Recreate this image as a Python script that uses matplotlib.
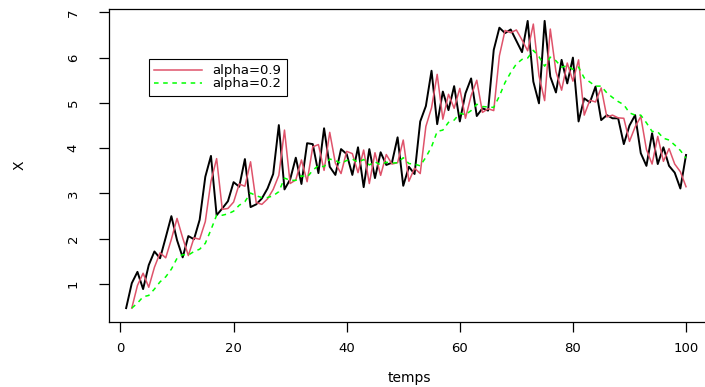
import matplotlib
matplotlib.use("Agg")
import matplotlib.pyplot as plt
import numpy as np

plt.rcParams['font.family'] = ['DejaVu Sans']

# serie observee X (t = 1..100)
x_obs = [0.47, 1.02, 1.27, 0.89, 1.42, 1.72, 1.57, 2.03, 2.50, 1.97,
         1.59, 2.06, 1.99, 2.42, 3.37, 3.83, 2.52, 2.67, 2.83, 3.25,
         3.15, 3.76, 2.70, 2.76, 2.89, 3.11, 3.43, 4.51, 3.09, 3.31,
         3.79, 3.21, 4.11, 4.09, 3.45, 4.44, 3.59, 3.41, 3.98, 3.87,
         3.41, 4.02, 3.14, 3.98, 3.34, 3.91, 3.63, 3.68, 4.24, 3.17,
         3.59, 3.43, 4.59, 4.93, 5.71, 4.53, 5.25, 4.84, 5.37, 4.59,
         5.21, 5.54, 4.71, 4.88, 4.83, 6.17, 6.66, 6.54, 6.62, 6.37,
         6.12, 6.81, 5.47, 4.99, 6.81, 5.58, 5.23, 5.95, 5.43, 6.00,
         4.59, 5.10, 5.01, 5.36, 4.62, 4.73, 4.66, 4.66, 4.09, 4.50,
         4.73, 3.89, 3.61, 4.33, 3.65, 4.02, 3.61, 3.46, 3.11, 3.85]

# lissage alpha=0.9 (t = 2..100)
x_a09 = [0.47, 0.97, 1.24, 0.93, 1.37, 1.69, 1.58, 1.99, 2.45, 2.02,
         1.63, 2.02, 1.99, 2.38, 3.27, 3.77, 2.65, 2.67, 2.81, 3.21,
         3.16, 3.70, 2.80, 2.76, 2.88, 3.09, 3.40, 4.40, 3.22, 3.30,
         3.74, 3.26, 4.03, 4.08, 3.51, 4.35, 3.67, 3.44, 3.93, 3.88,
         3.46, 3.96, 3.22, 3.90, 3.40, 3.86, 3.65, 3.68, 4.18, 3.27,
         3.56, 3.44, 4.48, 4.89, 5.63, 4.64, 5.19, 4.88, 5.32, 4.66,
         5.16, 5.50, 4.79, 4.87, 4.83, 6.04, 6.60, 6.55, 6.61, 6.39,
         6.15, 6.74, 5.60, 5.05, 6.63, 5.69, 5.28, 5.88, 5.48, 5.95,
         4.73, 5.06, 5.02, 5.33, 4.69, 4.73, 4.67, 4.66, 4.15, 4.47,
         4.70, 3.97, 3.65, 4.26, 3.71, 3.99, 3.65, 3.48, 3.15]

# lissage alpha=0.2 (t = 2..100)
x_a02 = [0.47, 0.58, 0.72, 0.75, 0.89, 1.05, 1.16, 1.33, 1.57, 1.65,
         1.64, 1.72, 1.77, 1.90, 2.20, 2.52, 2.52, 2.55, 2.61, 2.74,
         2.82, 3.01, 2.95, 2.91, 2.91, 2.95, 3.04, 3.34, 3.29, 3.29,
         3.39, 3.36, 3.51, 3.62, 3.59, 3.76, 3.73, 3.66, 3.73, 3.76,
         3.69, 3.75, 3.63, 3.70, 3.63, 3.69, 3.67, 3.68, 3.79, 3.66,
         3.65, 3.61, 3.80, 4.03, 4.37, 4.40, 4.57, 4.62, 4.77, 4.74,
         4.83, 4.97, 4.92, 4.91, 4.90, 5.15, 5.45, 5.67, 5.86, 5.96,
         5.99, 6.16, 6.02, 5.81, 6.01, 5.93, 5.79, 5.82, 5.74, 5.79,
         5.55, 5.46, 5.37, 5.37, 5.22, 5.12, 5.03, 4.96, 4.78, 4.73,
         4.73, 4.56, 4.37, 4.36, 4.22, 4.18, 4.07, 3.95, 3.78]

t_obs = np.arange(1, len(x_obs) + 1)
t_liss = np.arange(2, len(x_a09) + 2)

W, H = 705, 387
fig = plt.figure(figsize=(W / 100, H / 100), dpi=100)
ax = fig.add_axes([109 / W, 1 - 321.6 / H, 601 / W, 312.3 / H])

ax.plot(t_obs, x_obs, color="black", lw=1.4)
ax.plot(t_liss, x_a09, color="#DF536B", lw=1.1, label="alpha=0.9")
ax.plot(t_liss, x_a02, color="#00FF00", lw=1.1, ls=(0, (3, 3)), label="alpha=0.2")

ax.set_xlim(-2.03, 104.24)
ax.set_ylim(0.172, 7.066)
ax.set_xticks([0, 20, 40, 60, 80, 100])
ax.set_yticks([1, 2, 3, 4, 5, 6, 7])
ax.tick_params(direction="out", length=7, width=0.9, labelsize=9.5)
ax.tick_params(axis="x", pad=8)
ax.tick_params(axis="y", pad=14)
for lab in ax.get_yticklabels():
    lab.set_rotation(90)
    lab.set_va("center")
for s in ax.spines.values():
    s.set_linewidth(0.9)
ax.spines["right"].set_visible(False)

ax.set_xlabel("temps", fontsize=10, labelpad=11)
ax.set_ylabel("X", fontsize=10, labelpad=29)

leg = ax.legend(loc="upper left", bbox_to_anchor=(0.0666, 0.841), borderaxespad=0,
                fontsize=9.5, handlelength=3.6, handletextpad=0.8, fancybox=False,
                framealpha=1, edgecolor="black", borderpad=0.4, labelspacing=0.0)
leg.get_frame().set_linewidth(0.8)

fig.savefig("out.png", dpi=100)
